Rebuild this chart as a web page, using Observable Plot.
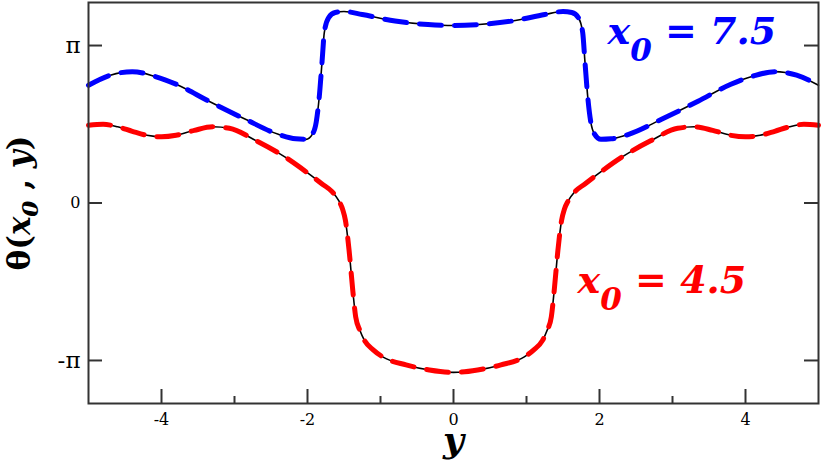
<!DOCTYPE html>
<html><head><meta charset="utf-8">
<script src="https://cdn.jsdelivr.net/npm/d3@7"></script>
<script src="https://cdn.jsdelivr.net/npm/@observablehq/plot@0.6"></script>
<style>body{margin:0;background:#fff} svg{display:block}</style>
</head><body><div id="chart"></div>
<script>
// x0 = 7.5 (blue)
const blueX = [-5.0,-4.7,-4.4,-4.1,-3.8,-3.35,-2.85,-2.4,-2.16,-2.02,-1.93,-1.88,-1.84,-1.80,-1.77,-1.71,-1.62,-1.50,-1.25,-0.8,-0.35,0,0.35,0.8,1.25,1.50,1.62,1.71,1.77,1.80,1.84,1.88,1.93,2.02,2.16,2.4,2.85,3.35,3.8,4.1,4.4,4.7,5.0];
const blueY = [2.35,2.55,2.62,2.53,2.37,2.03,1.67,1.37,1.28,1.27,1.38,1.62,2.10,2.83,3.40,3.70,3.80,3.82,3.76,3.63,3.56,3.54,3.56,3.63,3.76,3.82,3.80,3.70,3.40,2.83,2.10,1.62,1.38,1.27,1.28,1.37,1.67,2.03,2.37,2.53,2.62,2.55,2.35];
// x0 = 4.5 (red)
const redX = [-5.0,-4.8,-4.6,-4.4,-4.2,-4.0,-3.8,-3.55,-3.3,-3.07,-2.7,-2.3,-1.98,-1.8,-1.66,-1.57,-1.52,-1.48,-1.43,-1.38,-1.34,-1.28,-1.22,-1.1,-0.97,-0.65,-0.33,0,0.33,0.65,0.97,1.1,1.22,1.28,1.34,1.38,1.43,1.48,1.52,1.57,1.66,1.8,1.98,2.3,2.7,3.07,3.3,3.55,3.8,4.0,4.2,4.4,4.6,4.8,5.0];
const redY = [1.55,1.57,1.52,1.43,1.35,1.32,1.35,1.45,1.52,1.49,1.24,0.91,0.58,0.38,0.22,0.04,-0.12,-0.35,-0.95,-1.74,-2.27,-2.55,-2.74,-2.93,-3.07,-3.23,-3.33,-3.38,-3.33,-3.23,-3.07,-2.93,-2.74,-2.55,-2.27,-1.74,-0.95,-0.35,-0.12,0.04,0.22,0.38,0.58,0.91,1.24,1.49,1.52,1.45,1.35,1.32,1.35,1.43,1.52,1.57,1.55];

const xMajorTicks = [-4,-2,0,2,4];
const xMinorTicks = [-3,-1,1,3];
const yTicks = [-Math.PI, 0, Math.PI];
const yTickLabels = ["-π","0","π"];
const labelBlue = "x0 = 7.5";
const labelRed = "x0 = 4.5";
const yLabel = "θ(x0 , y)";
const xLabel = "y";

const blue = blueX.map((x,i)=>({x, y: blueY[i]}));
const red = redX.map((x,i)=>({x, y: redY[i]}));

const W = 822, H = 462, mL = 88, mR = 4, mT = 2, mB = 59;
const innerW = W - mL - mR, innerH = H - mT - mB;
const axisColor = "#333";
const serif = "DejaVu Serif";

const svg = Plot.plot({
  width: W, height: H,
  marginLeft: mL, marginRight: mR, marginTop: mT, marginBottom: mB,
  x: {domain: [-5, 5], axis: null},
  y: {domain: [-4, 4], axis: null},
  style: "background: white; color: black;",
  marks: [
    Plot.line(red, {x: "x", y: "y", curve: "monotone-x", stroke: "black", strokeWidth: 1.6}),
    Plot.line(red, {x: "x", y: "y", curve: "monotone-x", stroke: "#ff0000", strokeWidth: 5, strokeDasharray: "22,13"}),
    Plot.line(blue, {x: "x", y: "y", curve: "monotone-x", stroke: "black", strokeWidth: 1.6}),
    Plot.line(blue, {x: "x", y: "y", curve: "monotone-x", stroke: "#0000ff", strokeWidth: 5, strokeDasharray: "22,13"}),
    Plot.tickX(xMajorTicks, {x: d => d, insetTop: innerH - 14, stroke: axisColor, strokeWidth: 2}),
    Plot.tickX(xMinorTicks, {x: d => d, insetTop: innerH - 7, stroke: axisColor, strokeWidth: 2}),
    Plot.tickY(yTicks, {y: d => d, insetRight: innerW - 14, stroke: axisColor, strokeWidth: 2}),
    Plot.tickY(yTicks, {y: d => d, insetLeft: innerW - 14, stroke: axisColor, strokeWidth: 2}),
    Plot.frame({stroke: axisColor, strokeWidth: 2}),
    Plot.text(xMajorTicks, {x: d => d, text: d => String(d), frameAnchor: "bottom", dy: 16, lineAnchor: "middle", fontSize: 16, fontFamily: serif, fill: "black"}),
    Plot.text([1], {y: yTicks[1], text: [yTickLabels[1]], frameAnchor: "left", dx: -8, textAnchor: "end", lineAnchor: "middle", fontSize: 16, fontFamily: serif, fill: "black"}),
    Plot.text([0, 2], {y: i => yTicks[i], text: i => yTickLabels[i], frameAnchor: "left", dx: -8, textAnchor: "end", lineAnchor: "middle", fontSize: 23, fontFamily: serif, fill: "black"}),
    Plot.text([labelBlue], {x: 2.11, y: 3.17, text: d => d, textAnchor: "start", lineAnchor: "bottom", fontSize: 38, fontFamily: serif, fontWeight: "bold", fontStyle: "italic", fill: "#0000ff"}),
    Plot.text([labelRed], {x: 1.70, y: -1.80, text: d => d, textAnchor: "start", lineAnchor: "bottom", fontSize: 38, fontFamily: serif, fontWeight: "bold", fontStyle: "italic", fill: "#ff0000"}),
    Plot.text([yLabel], {frameAnchor: "left", dx: -68, rotate: -90, text: d => d, textAnchor: "middle", lineAnchor: "middle", fontSize: 31, fontFamily: serif, fontWeight: "bold", fill: "black"}),
    Plot.text([xLabel], {frameAnchor: "bottom", dy: 48, text: d => d, textAnchor: "middle", lineAnchor: "bottom", fontSize: 36, fontFamily: serif, fontWeight: "bold", fontStyle: "italic", fill: "black"})
  ]
});

const NS = "http://www.w3.org/2000/svg";
function rich(el, parts) {
  el.textContent = "";
  for (const p of parts) {
    const t = document.createElementNS(NS, "tspan");
    t.textContent = p.t;
    if (p.dy) t.setAttribute("dy", p.dy);
    if (p.size) t.setAttribute("font-size", p.size);
    if (p.style) t.setAttribute("font-style", p.style);
    el.appendChild(t);
  }
}
svg.querySelectorAll("text").forEach(el => {
  const s = el.textContent;
  el.setAttribute("font-family", serif);
  if (s === labelBlue || s === labelRed) {
    rich(el, [{t: "x"}, {t: "0", dy: 17, size: 31}, {t: s.slice(2), dy: -17}]);
  } else if (s === yLabel) {
    rich(el, [{t: "θ("}, {t: "x", style: "italic"}, {t: "0", dy: 8, size: 23, style: "italic"}, {t: " , ", dy: -8}, {t: "y", style: "italic"}, {t: ")"}]);
  }
});
document.getElementById("chart").appendChild(svg);
</script>
</body></html>
